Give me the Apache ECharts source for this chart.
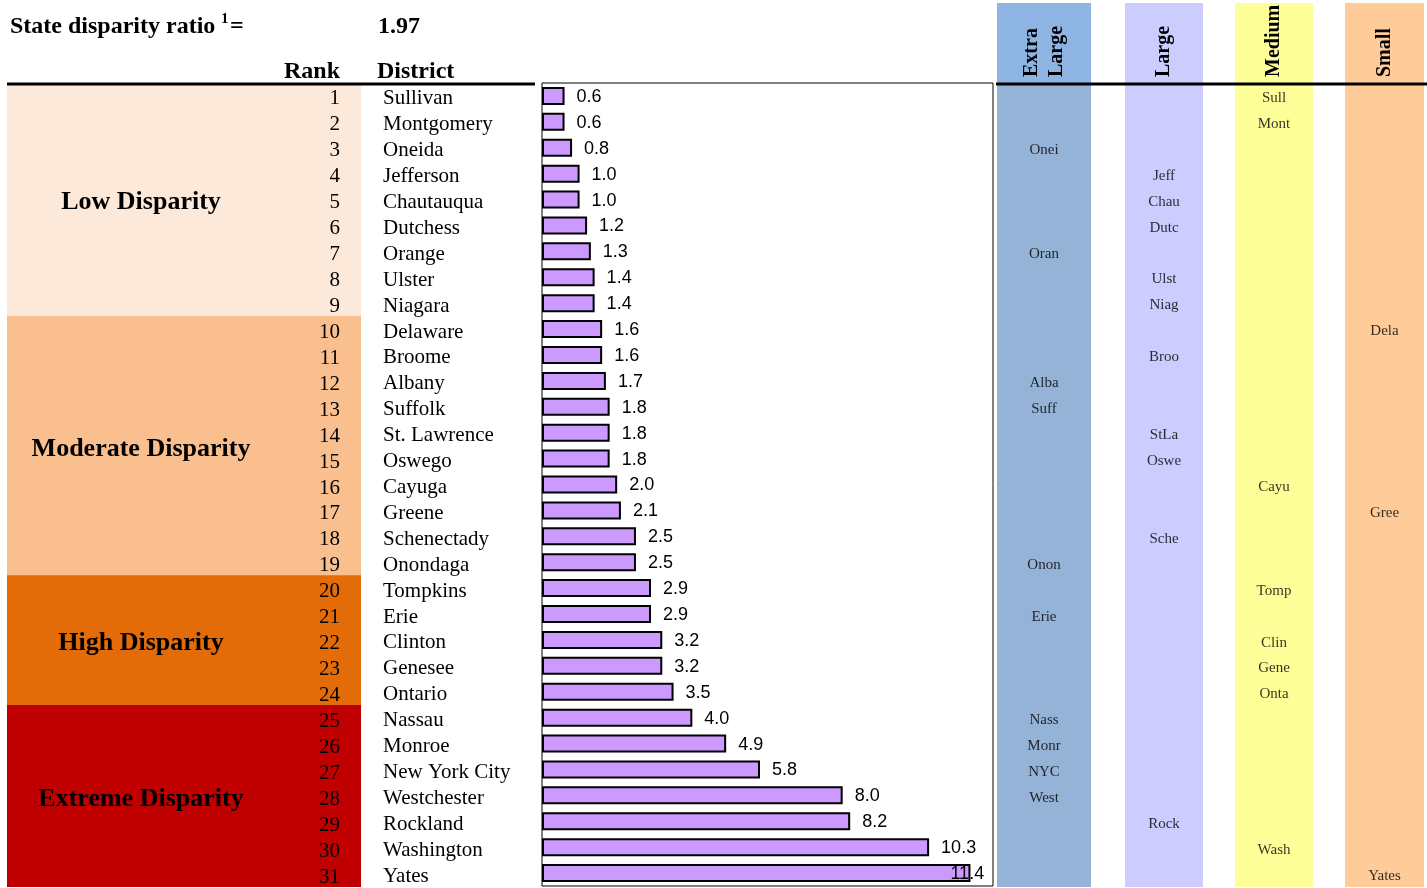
<!DOCTYPE html>
<html><head><meta charset="utf-8">
<script src="https://cdn.jsdelivr.net/npm/echarts@6/dist/echarts.min.js"></script>
<style>html,body{margin:0;padding:0;background:#fff}#c{width:1427px;height:888px}</style>
</head><body><div id="c"></div>
<script>
const districts = ['Sullivan','Montgomery','Oneida','Jefferson','Chautauqua','Dutchess','Orange','Ulster','Niagara','Delaware','Broome','Albany','Suffolk','St. Lawrence','Oswego','Cayuga','Greene','Schenectady','Onondaga','Tompkins','Erie','Clinton','Genesee','Ontario','Nassau','Monroe','New York City','Westchester','Rockland','Washington','Yates'];
const ranks = ['1','2','3','4','5','6','7','8','9','10','11','12','13','14','15','16','17','18','19','20','21','22','23','24','25','26','27','28','29','30','31'];
const ratios = [0.6,0.6,0.8,1.0,1.0,1.2,1.3,1.4,1.4,1.6,1.6,1.7,1.8,1.8,1.8,2.0,2.1,2.5,2.5,2.9,2.9,3.2,3.2,3.5,4.0,4.9,5.8,8.0,8.2,10.3,11.4];
const disparityGroups = ['Low Disparity','Moderate Disparity','High Disparity','Extreme Disparity'];
const groupOfDistrict = [0,0,0,0,0,0,0,0,0, 1,1,1,1,1,1,1,1,1,1, 2,2,2,2,2, 3,3,3,3,3,3,3];
const sizeClasses = ['Extra\nLarge','Large','Medium','Small'];
const sizeOfDistrict = [2,2,0,1,1,1,0,1,1,3,1,0,0,1,1,2,3,1,0,2,0,2,2,2,0,0,0,0,1,2,3];
const abbrevs = ['Sull','Mont','Onei','Jeff','Chau','Dutc','Oran','Ulst','Niag','Dela','Broo','Alba','Suff','StLa','Oswe','Cayu','Gree','Sche','Onon','Tomp','Erie','Clin','Gene','Onta','Nass','Monr','NYC','West','Rock','Wash','Yates'];
const stateRatio = '1.97';

const SERIF = 'Liberation Serif';
const SANS = 'Liberation Sans';
const TOP = 83, H = 804, ROW = H / districts.length;
const bandColors = ['#FCE9DA','#F9BF8F','#E36C09','#C00000'];
const cols = [
  {left:997, width:94, color:'#95B3D7', head:'#8DB4E2'},
  {left:1125, width:78, color:'#CCCCFF', head:'#CCCCFF'},
  {left:1235, width:78, color:'#FFFF99', head:'#FFFF99'},
  {left:1345, width:79, color:'#FFCC99', head:'#FFCC99'}
];

const grids = [
  {left:542, top:TOP, width:451, height:803, show:true, borderColor:'#000', borderWidth:1, backgroundColor:'#fff'},
  {left:7, top:TOP, width:354, height:H}
];
cols.forEach(c => grids.push({left:c.left, top:TOP, width:c.width, height:H, show:true, borderWidth:0, backgroundColor:c.color}));

const xAxes = [
  {gridIndex:0, type:'value', min:0, max:12, show:false},
  {gridIndex:1, type:'value', min:0, max:1, show:false}
];
const yAxes = [
  {gridIndex:0, type:'category', data:districts, inverse:true, z:10,
   axisLine:{show:false}, axisTick:{show:false},
   axisLabel:{align:'left', margin:159, interval:0, color:'#000',
     formatter:v => (v === 'New York City' ? '{n|' : '{d|') + v + '}',
     rich:{d:{fontFamily:SERIF, fontSize:21, color:'#000', padding:[6,0,0,0]},
           n:{fontFamily:SERIF, fontSize:21, color:'#000', padding:[6,0,0,0]}}}},
  {gridIndex:1, type:'category', data:districts, inverse:true, position:'right', z:10,
   axisLine:{show:false}, axisTick:{show:false},
   axisLabel:{inside:true, margin:21, interval:0, color:'#000',
     formatter:(v,i)=>'{r|' + ranks[i] + '}',
     rich:{r:{fontFamily:SERIF, fontSize:21, color:'#000', padding:[6,0,0,0]}}}}
];
cols.forEach((c,k) => {
  xAxes.push({gridIndex:k+2, type:'value', min:0, max:1, show:false});
  yAxes.push({gridIndex:k+2, type:'category', data:districts, inverse:true, show:false});
});

// group label placement (middle of each disparity group)
const groupMid = disparityGroups.map((g,gi) => {
  const idx = groupOfDistrict.map((v,i)=>v===gi?i:-1).filter(i=>i>=0);
  return (idx[0] + idx[idx.length-1]) / 2;
});

const bandData = districts.map((d,i) => {
  const gi = groupOfDistrict[i];
  const mid = groupMid[gi];
  const item = {value:1, itemStyle:{color:bandColors[gi]}};
  if (Math.floor(mid) === i) {
    item.label = {show:true, formatter:disparityGroups[gi], position:[134,'50%'], align:'center', verticalAlign:'middle',
      offset:[0,(mid - i) * ROW + 3], fontFamily:SERIF, fontWeight:'bold', fontSize:26, color:'#000'};
  }
  return item;
});

const barData = ratios.map((v,i) => {
  const item = {value:v};
  if (i === ratios.length - 1) item.label = {offset:[-32,1]};
  return item;
});

const series = [
  {type:'bar', xAxisIndex:1, yAxisIndex:1, data:bandData, barWidth:Math.ceil(ROW) + 1, silent:true, z:0,
   label:{show:false}},
  {type:'bar', xAxisIndex:0, yAxisIndex:0, data:barData, barWidth:18, z:3,
   itemStyle:{color:'#CC99FF', borderColor:'#000', borderWidth:2},
   label:{show:true, position:'right', distance:12, fontFamily:SANS, fontSize:18, color:'#000',
     offset:[0,1],
     formatter:p=>Number(p.value).toFixed(1)}}
];
cols.forEach((c,k) => {
  const data = [];
  districts.forEach((d,i) => { if (sizeOfDistrict[i] === k) data.push({name:abbrevs[i], value:[0.5, d]}); });
  series.push({type:'scatter', xAxisIndex:k+2, yAxisIndex:k+2, data, symbolSize:0, silent:true,
    label:{show:true, position:'inside', offset:[0,2], formatter:'{b}', fontFamily:SERIF, fontSize:15, color:'#000'}});
});

const graphic = [];
cols.forEach((c,k) => {
  graphic.push({type:'rect', shape:{x:c.left, y:3, width:c.width, height:TOP-3}, style:{fill:c.head}, z:0});
  graphic.push({type:'text', x:c.left + c.width/2, y:77, rotation:Math.PI/2,
    style:{text:sizeClasses[k], fontFamily:SERIF, fontWeight:'bold', fontSize:20, fill:'#000', align:'left', verticalAlign:'middle', lineHeight:25}, z:5});
});
graphic.push(
  {type:'text', x:10, y:27, style:{text:'State disparity ratio', fontFamily:SERIF, fontWeight:'bold', fontSize:24, fill:'#000', verticalAlign:'middle'}},
  {type:'text', x:221, y:19, style:{text:'1', fontFamily:SERIF, fontWeight:'bold', fontSize:15, fill:'#000', verticalAlign:'middle'}},
  {type:'text', x:230, y:27, style:{text:'=', fontFamily:SERIF, fontWeight:'bold', fontSize:24, fill:'#000', verticalAlign:'middle'}},
  {type:'text', x:378, y:27, style:{text:stateRatio, fontFamily:SERIF, fontWeight:'bold', fontSize:24, fill:'#000', verticalAlign:'middle'}},
  {type:'text', x:340, y:72, style:{text:'Rank', fontFamily:SERIF, fontWeight:'bold', fontSize:24, fill:'#000', align:'right', verticalAlign:'middle'}},
  {type:'text', x:377, y:72, style:{text:'District', fontFamily:SERIF, fontWeight:'bold', fontSize:24, fill:'#000', align:'left', verticalAlign:'middle'}},
  {type:'line', shape:{x1:7, y1:84, x2:535, y2:84}, style:{stroke:'#000', lineWidth:3}, z:20},
  {type:'line', shape:{x1:996, y1:84, x2:1427, y2:84}, style:{stroke:'#000', lineWidth:3}, z:20}
);

const chart = echarts.init(document.getElementById('c'));
chart.setOption({
  animation:false,
  grid:grids, xAxis:xAxes, yAxis:yAxes, series, graphic
});
</script>
</body></html>
